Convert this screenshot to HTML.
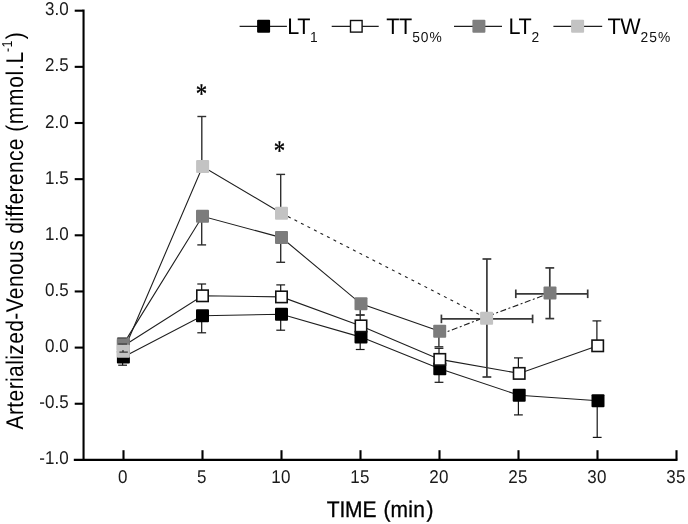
<!DOCTYPE html>
<html><head><meta charset="utf-8"><title>Arterialized-Venous difference</title>
<style>
html,body{margin:0;padding:0;background:#fff;}
svg{display:block;will-change:transform;}
text{font-family:"Liberation Sans",sans-serif;fill:#111;text-rendering:geometricPrecision;}
.tk{font-size:17px;fill:#1a1a1a;}
.lg{font-size:21.6px;letter-spacing:-0.4px;fill:#000;}
.sb{font-size:13.8px;letter-spacing:1px;fill:#111;}
.ti{font-size:21px;letter-spacing:0.2px;fill:#000;stroke:#000;stroke-width:0.3px;}
.yl{font-size:21px;letter-spacing:0.385px;fill:#000;}
.as{font-family:"Liberation Serif",serif;font-size:28.5px;fill:#000;stroke:#000;stroke-width:0.35px;}
</style></head><body>
<svg width="688" height="524" viewBox="0 0 688 524">
<rect width="688" height="524" fill="#fff"/>
<polyline points="123.4,357.0 202.5,315.8 281.5,314.3 361.0,337.1 439.8,368.7 519.2,395.3 598.0,400.7" fill="none" stroke="#1e1e1e" stroke-width="1.1" />
<polyline points="123.4,346.0 202.5,295.8 281.5,296.9 361.0,325.9 439.8,359.4 519.2,373.4 597.7,345.8" fill="none" stroke="#1e1e1e" stroke-width="1.1" />
<polyline points="123.4,344.1 202.5,216.3 281.5,237.6 361.0,303.8 439.7,331.3" fill="none" stroke="#1e1e1e" stroke-width="1.1" />
<polyline points="123.4,351.2 202.6,166.5 281.5,213.2" fill="none" stroke="#1e1e1e" stroke-width="1.1" />
<polyline points="439.7,334.6 486.6,316.6 550.0,293.1" fill="none" stroke="#1e1e1e" stroke-width="1.1" stroke-dasharray="6 2.5 2 2.5"/>
<line x1="281.5" y1="213.2" x2="486.6" y2="318.2" stroke="#1e1e1e" stroke-width="1.1" stroke-dasharray="3 4.3"/>
<line x1="122.6" y1="357.0" x2="122.6" y2="365.2" stroke="#151515" stroke-width="1.2" />
<line x1="118.2" y1="365.2" x2="127.0" y2="365.2" stroke="#151515" stroke-width="1.2" />
<line x1="201.7" y1="315.8" x2="201.7" y2="332.8" stroke="#151515" stroke-width="1.2" />
<line x1="197.3" y1="332.8" x2="206.1" y2="332.8" stroke="#151515" stroke-width="1.2" />
<line x1="280.7" y1="314.3" x2="280.7" y2="330.2" stroke="#151515" stroke-width="1.2" />
<line x1="276.3" y1="330.2" x2="285.1" y2="330.2" stroke="#151515" stroke-width="1.2" />
<line x1="360.2" y1="337.1" x2="360.2" y2="349.5" stroke="#151515" stroke-width="1.2" />
<line x1="355.8" y1="349.5" x2="364.6" y2="349.5" stroke="#151515" stroke-width="1.2" />
<line x1="439.0" y1="368.7" x2="439.0" y2="382.3" stroke="#151515" stroke-width="1.2" />
<line x1="434.6" y1="382.3" x2="443.4" y2="382.3" stroke="#151515" stroke-width="1.2" />
<line x1="518.4" y1="395.3" x2="518.4" y2="414.9" stroke="#151515" stroke-width="1.2" />
<line x1="514.0" y1="414.9" x2="522.8" y2="414.9" stroke="#151515" stroke-width="1.2" />
<line x1="597.2" y1="400.7" x2="597.2" y2="437.4" stroke="#151515" stroke-width="1.2" />
<line x1="592.8" y1="437.4" x2="601.6" y2="437.4" stroke="#151515" stroke-width="1.2" />
<rect x="116.90" y="350.50" width="13.0" height="13.0" rx="1" fill="#000"/>
<rect x="196.00" y="309.30" width="13.0" height="13.0" rx="1" fill="#000"/>
<rect x="275.00" y="307.80" width="13.0" height="13.0" rx="1" fill="#000"/>
<rect x="354.50" y="330.60" width="13.0" height="13.0" rx="1" fill="#000"/>
<rect x="433.30" y="362.20" width="13.0" height="13.0" rx="1" fill="#000"/>
<rect x="512.70" y="388.80" width="13.0" height="13.0" rx="1" fill="#000"/>
<rect x="591.50" y="394.20" width="13.0" height="13.0" rx="1" fill="#000"/>
<line x1="122.6" y1="346.0" x2="122.6" y2="341.0" stroke="#151515" stroke-width="1.2" />
<line x1="118.2" y1="341.0" x2="127.0" y2="341.0" stroke="#151515" stroke-width="1.2" />
<line x1="201.7" y1="295.8" x2="201.7" y2="284.0" stroke="#151515" stroke-width="1.2" />
<line x1="197.3" y1="284.0" x2="206.1" y2="284.0" stroke="#151515" stroke-width="1.2" />
<line x1="280.7" y1="296.9" x2="280.7" y2="284.9" stroke="#151515" stroke-width="1.2" />
<line x1="276.3" y1="284.9" x2="285.1" y2="284.9" stroke="#151515" stroke-width="1.2" />
<line x1="360.2" y1="325.9" x2="360.2" y2="315.0" stroke="#151515" stroke-width="1.2" />
<line x1="355.8" y1="315.0" x2="364.6" y2="315.0" stroke="#151515" stroke-width="1.2" />
<line x1="439.0" y1="359.4" x2="439.0" y2="348.3" stroke="#151515" stroke-width="1.2" />
<line x1="434.6" y1="348.3" x2="443.4" y2="348.3" stroke="#151515" stroke-width="1.2" />
<line x1="518.4" y1="373.4" x2="518.4" y2="357.9" stroke="#151515" stroke-width="1.2" />
<line x1="514.0" y1="357.9" x2="522.8" y2="357.9" stroke="#151515" stroke-width="1.2" />
<line x1="596.9" y1="345.8" x2="596.9" y2="320.9" stroke="#151515" stroke-width="1.2" />
<line x1="592.5" y1="320.9" x2="601.3" y2="320.9" stroke="#151515" stroke-width="1.2" />
<rect x="117.70" y="340.30" width="11.40" height="11.40" fill="#fff" stroke="#111" stroke-width="1.6"/>
<rect x="196.80" y="290.10" width="11.40" height="11.40" fill="#fff" stroke="#111" stroke-width="1.6"/>
<rect x="275.80" y="291.20" width="11.40" height="11.40" fill="#fff" stroke="#111" stroke-width="1.6"/>
<rect x="355.30" y="320.20" width="11.40" height="11.40" fill="#fff" stroke="#111" stroke-width="1.6"/>
<rect x="434.10" y="353.70" width="11.40" height="11.40" fill="#fff" stroke="#111" stroke-width="1.6"/>
<rect x="513.50" y="367.70" width="11.40" height="11.40" fill="#fff" stroke="#111" stroke-width="1.6"/>
<rect x="592.00" y="340.10" width="11.40" height="11.40" fill="#fff" stroke="#111" stroke-width="1.6"/>
<line x1="122.6" y1="344.1" x2="122.6" y2="346.0" stroke="#303030" stroke-width="1.4" />
<line x1="118.2" y1="346.0" x2="127.0" y2="346.0" stroke="#303030" stroke-width="1.4" />
<line x1="201.7" y1="216.3" x2="201.7" y2="244.9" stroke="#303030" stroke-width="1.4" />
<line x1="197.3" y1="244.9" x2="206.1" y2="244.9" stroke="#303030" stroke-width="1.4" />
<line x1="280.7" y1="237.6" x2="280.7" y2="262.3" stroke="#303030" stroke-width="1.4" />
<line x1="276.3" y1="262.3" x2="285.1" y2="262.3" stroke="#303030" stroke-width="1.4" />
<line x1="360.2" y1="303.8" x2="360.2" y2="315.0" stroke="#303030" stroke-width="1.4" />
<line x1="355.8" y1="315.0" x2="364.6" y2="315.0" stroke="#303030" stroke-width="1.4" />
<line x1="438.9" y1="331.3" x2="438.9" y2="346.8" stroke="#303030" stroke-width="1.4" />
<line x1="434.5" y1="346.8" x2="443.3" y2="346.8" stroke="#303030" stroke-width="1.4" />
<line x1="549.8" y1="293.1" x2="549.8" y2="267.9" stroke="#383838" stroke-width="1.7" />
<line x1="545.4" y1="267.9" x2="554.2" y2="267.9" stroke="#383838" stroke-width="1.7" />
<line x1="549.8" y1="293.1" x2="549.8" y2="318.6" stroke="#383838" stroke-width="1.7" />
<line x1="545.4" y1="318.6" x2="554.2" y2="318.6" stroke="#383838" stroke-width="1.7" />
<line x1="550.0" y1="293.8" x2="515.8" y2="293.8" stroke="#383838" stroke-width="1.7" />
<line x1="515.8" y1="289.5" x2="515.8" y2="298.1" stroke="#383838" stroke-width="1.7" />
<line x1="550.0" y1="293.8" x2="587.7" y2="293.8" stroke="#383838" stroke-width="1.7" />
<line x1="587.7" y1="289.5" x2="587.7" y2="298.1" stroke="#383838" stroke-width="1.7" />
<rect x="116.90" y="337.60" width="13.0" height="13.0" rx="1" fill="#7c7c7c"/>
<rect x="196.00" y="209.80" width="13.0" height="13.0" rx="1" fill="#7c7c7c"/>
<rect x="275.00" y="231.10" width="13.0" height="13.0" rx="1" fill="#7c7c7c"/>
<rect x="354.50" y="297.30" width="13.0" height="13.0" rx="1" fill="#7c7c7c"/>
<rect x="433.20" y="324.80" width="13.0" height="13.0" rx="1" fill="#7c7c7c"/>
<rect x="543.50" y="286.60" width="13.0" height="13.0" rx="1" fill="#7c7c7c"/>
<line x1="117.5" y1="338.0" x2="126.7" y2="338.0" stroke="#333" stroke-width="0.9" />
<line x1="122.6" y1="351.2" x2="122.6" y2="344.2" stroke="#303030" stroke-width="1.4" />
<line x1="118.2" y1="344.2" x2="127.0" y2="344.2" stroke="#303030" stroke-width="1.4" />
<line x1="201.8" y1="166.5" x2="201.8" y2="116.5" stroke="#303030" stroke-width="1.4" />
<line x1="197.4" y1="116.5" x2="206.2" y2="116.5" stroke="#303030" stroke-width="1.4" />
<line x1="280.7" y1="213.2" x2="280.7" y2="174.4" stroke="#303030" stroke-width="1.4" />
<line x1="276.3" y1="174.4" x2="285.1" y2="174.4" stroke="#303030" stroke-width="1.4" />
<line x1="486.9" y1="318.2" x2="486.9" y2="259.0" stroke="#383838" stroke-width="1.7" />
<line x1="482.5" y1="259.0" x2="491.3" y2="259.0" stroke="#383838" stroke-width="1.7" />
<line x1="486.9" y1="318.2" x2="486.9" y2="377.0" stroke="#383838" stroke-width="1.7" />
<line x1="482.5" y1="377.0" x2="491.3" y2="377.0" stroke="#383838" stroke-width="1.7" />
<line x1="486.6" y1="318.9" x2="441.4" y2="318.9" stroke="#383838" stroke-width="1.7" />
<line x1="441.4" y1="314.6" x2="441.4" y2="323.2" stroke="#383838" stroke-width="1.7" />
<line x1="486.6" y1="318.9" x2="532.6" y2="318.9" stroke="#383838" stroke-width="1.7" />
<line x1="532.6" y1="314.6" x2="532.6" y2="323.2" stroke="#383838" stroke-width="1.7" />
<rect x="116.90" y="344.70" width="13.0" height="13.0" rx="1" fill="#c3c3c3"/>
<rect x="196.10" y="160.00" width="13.0" height="13.0" rx="1" fill="#c3c3c3"/>
<rect x="275.00" y="206.70" width="13.0" height="13.0" rx="1" fill="#c3c3c3"/>
<rect x="480.10" y="311.70" width="13.0" height="13.0" rx="1" fill="#c3c3c3"/>
<line x1="119.4" y1="352.1" x2="127.8" y2="352.1" stroke="#222" stroke-width="1.1" />
<line x1="123.0" y1="350.0" x2="123.0" y2="352.1" stroke="#222" stroke-width="1.1" />
<line x1="83.55" y1="9.6" x2="83.55" y2="460.9" stroke="#000" stroke-width="2.1"/>
<line x1="73.8" y1="459.85" x2="677.5" y2="459.85" stroke="#000" stroke-width="2.1"/>
<line x1="74.7" y1="10.70" x2="83" y2="10.70" stroke="#000" stroke-width="2.1"/>
<text transform="translate(68.6,15.20) scale(1,1.09)" text-anchor="end" class="tk">3.0</text>
<line x1="74.7" y1="66.85" x2="83" y2="66.85" stroke="#000" stroke-width="2.1"/>
<text transform="translate(68.6,71.35) scale(1,1.09)" text-anchor="end" class="tk">2.5</text>
<line x1="74.7" y1="123.00" x2="83" y2="123.00" stroke="#000" stroke-width="2.1"/>
<text transform="translate(68.6,127.50) scale(1,1.09)" text-anchor="end" class="tk">2.0</text>
<line x1="74.7" y1="179.15" x2="83" y2="179.15" stroke="#000" stroke-width="2.1"/>
<text transform="translate(68.6,183.65) scale(1,1.09)" text-anchor="end" class="tk">1.5</text>
<line x1="74.7" y1="235.30" x2="83" y2="235.30" stroke="#000" stroke-width="2.1"/>
<text transform="translate(68.6,239.80) scale(1,1.09)" text-anchor="end" class="tk">1.0</text>
<line x1="74.7" y1="291.45" x2="83" y2="291.45" stroke="#000" stroke-width="2.1"/>
<text transform="translate(68.6,295.95) scale(1,1.09)" text-anchor="end" class="tk">0.5</text>
<line x1="74.7" y1="347.60" x2="83" y2="347.60" stroke="#000" stroke-width="2.1"/>
<text transform="translate(68.6,352.10) scale(1,1.09)" text-anchor="end" class="tk">0.0</text>
<line x1="74.7" y1="403.75" x2="83" y2="403.75" stroke="#000" stroke-width="2.1"/>
<text transform="translate(68.6,408.25) scale(1,1.09)" text-anchor="end" class="tk">-0.5</text>
<text transform="translate(68.6,464.40) scale(1,1.09)" text-anchor="end" class="tk">-1.0</text>
<line x1="123.5" y1="450.2" x2="123.5" y2="459.5" stroke="#000" stroke-width="2.1"/>
<text transform="translate(122.9,482.6) scale(1,1.09)" text-anchor="middle" letter-spacing="0.3" class="tk">0</text>
<line x1="202.5" y1="450.2" x2="202.5" y2="459.5" stroke="#000" stroke-width="2.1"/>
<text transform="translate(201.9,482.6) scale(1,1.09)" text-anchor="middle" letter-spacing="0.3" class="tk">5</text>
<line x1="281.5" y1="450.2" x2="281.5" y2="459.5" stroke="#000" stroke-width="2.1"/>
<text transform="translate(280.9,482.6) scale(1,1.09)" text-anchor="middle" letter-spacing="0.3" class="tk">10</text>
<line x1="360.5" y1="450.2" x2="360.5" y2="459.5" stroke="#000" stroke-width="2.1"/>
<text transform="translate(359.9,482.6) scale(1,1.09)" text-anchor="middle" letter-spacing="0.3" class="tk">15</text>
<line x1="439.5" y1="450.2" x2="439.5" y2="459.5" stroke="#000" stroke-width="2.1"/>
<text transform="translate(438.9,482.6) scale(1,1.09)" text-anchor="middle" letter-spacing="0.3" class="tk">20</text>
<line x1="518.5" y1="450.2" x2="518.5" y2="459.5" stroke="#000" stroke-width="2.1"/>
<text transform="translate(517.9,482.6) scale(1,1.09)" text-anchor="middle" letter-spacing="0.3" class="tk">25</text>
<line x1="597.5" y1="450.2" x2="597.5" y2="459.5" stroke="#000" stroke-width="2.1"/>
<text transform="translate(596.9,482.6) scale(1,1.09)" text-anchor="middle" letter-spacing="0.3" class="tk">30</text>
<line x1="676.5" y1="450.2" x2="676.5" y2="459.5" stroke="#000" stroke-width="2.1"/>
<text transform="translate(675.9,482.6) scale(1,1.09)" text-anchor="middle" letter-spacing="0.3" class="tk">35</text>
<line x1="239.6" y1="26.4" x2="286.9" y2="26.4" stroke="#1e1e1e" stroke-width="1.3"/>
<rect x="257.10" y="19.80" width="13.0" height="13.0" rx="1" fill="#000"/>
<line x1="331.7" y1="26.4" x2="378.7" y2="26.4" stroke="#1e1e1e" stroke-width="1.3"/>
<rect x="350.50" y="20.50" width="11.6" height="11.6" fill="#fff" stroke="#111" stroke-width="1.4"/>
<line x1="454" y1="26.4" x2="502" y2="26.4" stroke="#1e1e1e" stroke-width="1.3"/>
<rect x="472.40" y="19.80" width="13.0" height="13.0" rx="1" fill="#7f7f7f"/>
<line x1="553.4" y1="26.4" x2="602.2" y2="26.4" stroke="#1e1e1e" stroke-width="1.3"/>
<rect x="571.10" y="19.80" width="13.0" height="13.0" rx="1" fill="#c3c3c3"/>
<text transform="translate(287.3,33.5) scale(1,1.05)" class="lg">LT<tspan class="sb" dy="8.0">1</tspan></text>
<text transform="translate(386.3,33.5) scale(1,1.05)" class="lg">TT<tspan class="sb" dy="8.0" dx="0.3">50%</tspan></text>
<text transform="translate(508.6,33.5) scale(1,1.05)" class="lg">LT<tspan class="sb" dy="8.0">2</tspan></text>
<text transform="translate(607.5,33.5) scale(1,1.05)" class="lg">TW<tspan class="sb" dy="8.0" dx="0.3">25%</tspan></text>
<text transform="translate(201.5,102.9) scale(0.8,1)" text-anchor="middle" class="as">*</text>
<text transform="translate(279.5,159.9) scale(0.8,1)" text-anchor="middle" class="as">*</text>
<text transform="translate(326.7,516.9) scale(1,1.08)" class="ti"><tspan letter-spacing="-0.15">TIME</tspan><tspan dx="1.1"> (min</tspan><tspan dx="1.4">)</tspan></text>
<text transform="translate(23,429.4) rotate(-90) scale(1,1.15)" class="yl">Arterialized-Venous difference <tspan letter-spacing="0.68">(mmol.L</tspan><tspan font-size="12.5" dy="-9.8" dx="-0.8">-1</tspan><tspan dy="9.8" dx="0.8">)</tspan></text>
</svg>
</body></html>
